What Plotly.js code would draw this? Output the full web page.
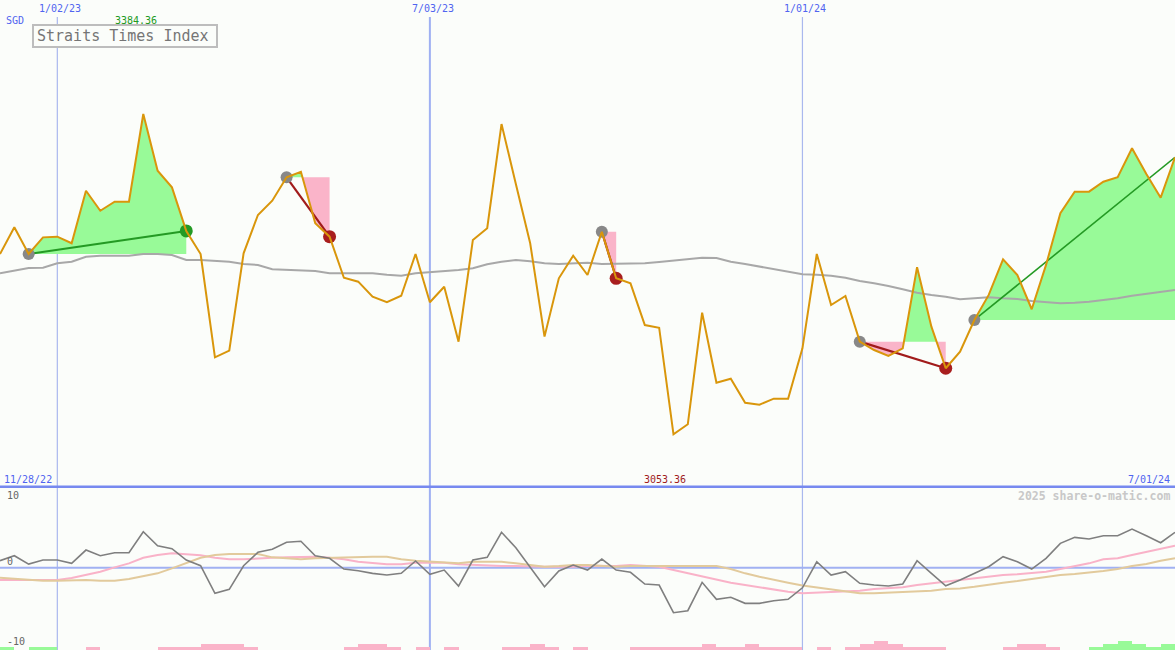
<!DOCTYPE html>
<html>
<head>
<meta charset="utf-8">
<script src="https://cdn.plot.ly/plotly-3.0.1.min.js"></script>
<style>
  html, body { margin: 0; padding: 0; background: #fbfdfa; }
  #chart { width: 1175px; height: 650px; }
</style>
</head>
<body>
<div id="chart"></div>
<script>
// Weekly closes of the Straits Times Index, first week 5 Dec 2022
const close = [
  3239.7, 3267.3, 3239.7, 3256.9, 3257.6, 3250.8, 3305.1, 3284.4, 3293.7, 3293.7,
  3384.36, 3325.8, 3308.6, 3263.5, 3239.7, 3132.9, 3139.8, 3240.4, 3280.0, 3294.8,
  3319.0, 3324.7, 3271.4, 3257.6, 3215.2, 3211.1, 3195.6, 3189.8, 3196.6, 3239.7,
  3189.8, 3205.9, 3149.1, 3254.2, 3266.3, 3374.0, 3312.0, 3250.8, 3154.3, 3214.6,
  3237.9, 3218.0, 3262.7, 3214.6, 3209.4, 3166.3, 3163.5, 3053.36, 3063.7, 3179.0,
  3106.7, 3110.8, 3086.0, 3084.0, 3090.2, 3090.2, 3142.2, 3239.7, 3187.0, 3196.3,
  3149.1, 3140.5, 3134.3, 3142.2, 3226.0, 3164.6, 3121.6, 3138.8, 3171.5, 3197.4,
  3234.2, 3218.0, 3182.6, 3228.4, 3281.8, 3304.1, 3304.1, 3314.4, 3319.0, 3349.0,
  3322.4, 3297.9, 3339.6
];

// Moving average of the close
const average = [
  3219.8, 3222.6, 3225.2, 3225.5, 3230.1, 3231.7, 3236.9, 3237.9, 3237.9, 3237.9,
  3239.7, 3239.7, 3238.7, 3233.5, 3233.5, 3232.8, 3231.7, 3229.4, 3228.4, 3223.9,
  3223.2, 3223.2, 3222.1, 3219.8, 3219.8, 3219.8, 3219.8, 3218.3, 3217.3, 3219.8,
  3220.8, 3222.4, 3223.2, 3224.9, 3229.1, 3231.7, 3233.5, 3232.2, 3230.1, 3229.4,
  3230.1, 3230.7, 3229.4, 3229.4, 3229.4, 3230.1, 3231.4, 3232.8, 3234.5, 3235.9,
  3235.6, 3231.7, 3229.4, 3226.6, 3223.9, 3221.1, 3218.7, 3218.3, 3217.3, 3215.2,
  3211.8, 3209.4, 3206.7, 3203.2, 3199.7, 3197.4, 3195.6, 3192.9, 3193.9, 3195.0,
  3193.9, 3193.2, 3191.2, 3189.8, 3188.8, 3189.4, 3190.4, 3192.2, 3193.9, 3196.6,
  3198.4, 3200.1, 3202.5
];

// Momentum oscillator and its two smoothings
const oscillator = [
  0.96, 1.64, 0.5, 1.05, 1.05, 0.6, 2.42, 1.64, 2.05, 2.05,
  4.93, 3.01, 2.6, 1.05, 0.27, -3.51, -2.96, 0.27, 2.11, 2.52,
  3.48, 3.62, 1.64, 1.29, -0.18, -0.41, -0.77, -1.0, -0.77, 0.92,
  -0.9, -0.32, -2.51, 1.05, 1.42, 4.85, 2.74, 0.14, -2.6, -0.45,
  0.37, -0.32, 1.19, -0.32, -0.63, -2.23, -2.37, -6.16, -5.89, -2.0,
  -4.33, -4.05, -4.88, -4.88, -4.52, -4.33, -2.75, 0.82, -1.0, -0.55,
  -2.14, -2.37, -2.51, -2.23, 0.96, -0.77, -2.47, -1.68, -0.77, 0.14,
  1.51, 0.82, -0.18, 1.29, 3.34, 4.16, 3.93, 4.38, 4.38, 5.3,
  4.38, 3.42, 4.85
];
const oscFast = [
  -1.68, -1.68, -1.68, -1.68, -1.68, -1.4, -1.0, -0.55, 0.05, 0.6,
  1.37, 1.74, 1.97, 1.88, 1.7, 1.37, 1.15, 1.15, 1.29, 1.37,
  1.42, 1.51, 1.51, 1.37, 1.15, 0.82, 0.68, 0.46, 0.46, 0.68,
  0.73, 0.68, 0.46, 0.37, 0.23, 0.23, 0.23, 0.14, 0.14, 0.14,
  0.14, 0.27, 0.27, 0.23, 0.37, 0.27, 0.14, -0.32, -0.77, -1.23,
  -1.68, -2.05, -2.37, -2.69, -2.96, -3.28, -3.51, -3.42, -3.42, -3.28,
  -3.15, -2.92, -2.83, -2.69, -2.37, -2.14, -1.92, -1.68, -1.46, -1.23,
  -1.0, -0.9, -0.77, -0.55, -0.18, 0.23, 0.6, 1.15, 1.29, 1.74,
  2.19, 2.56, 3.01
];
const oscSlow = [
  -1.37, -1.5, -1.59, -1.78, -1.78, -1.68, -1.68, -1.78, -1.78, -1.55,
  -1.14, -0.77, -0.09, 0.6, 1.37, 1.74, 1.88, 1.88, 1.88, 1.42,
  1.29, 1.15, 1.29, 1.37, 1.37, 1.51, 1.51, 1.51, 1.15, 0.96,
  0.82, 0.68, 0.6, 0.82, 0.82, 0.82, 0.6, 0.32, 0.14, 0.23,
  0.37, 0.37, 0.23, 0.14, 0.23, 0.23, 0.27, 0.27, 0.27, 0.23,
  0.23, -0.18, -0.77, -1.23, -1.68, -2.05, -2.42, -2.69, -2.96, -3.28,
  -3.51, -3.51, -3.42, -3.37, -3.28, -3.15, -2.92, -2.83, -2.6, -2.28,
  -2.05, -1.83, -1.55, -1.23, -1.0, -0.87, -0.68, -0.45, -0.18, 0.23,
  0.5, 0.96, 1.29
];

// Trend strength per week-to-week interval (+ rising, - falling)
const strength = [
  1, 0, 1, 1, 0, 0, -1, 0, 0, 0,
  0, -1, -1, -1, -2, -2, -2, -1, 0, 0,
  0, 0, 0, 0, -1, -2, -2, -1, 0, -1,
  0, -1, 0, 0, 0, -1, -1, -2, -1, 0,
  -1, 0, 0, 0, -1, -1, -1, -1, -1, -2,
  -1, -1, -2, -1, -1, -1, 0, -1, 0, -1,
  -2, -3, -2, -1, -1, -1, 0, 0, 0, 0,
  -1, -2, -2, -1, 0, 0, 1, 2, 3, 2,
  1, 2
];

// Trade signals: week index where each one opens and closes
const signalFrom = [2, 20, 42, 60, 68];
const signalTo   = [13, 23, 43, 66, 82];
const signalOpen = [false, false, false, false, true];

// Period markers across the top
const periodDates  = ['2023-01-02', '2023-07-03', '2024-01-01'];
const periodLabels = ['1/02/23', '7/03/23', '1/01/24'];

const chartTitle = 'Straits Times Index';
const currency = 'SGD';
const startLabel = '11/28/22';
const endLabel = '7/01/24';
const creditText = '2025 share-o-matic.com';

// ---------------------------------------------------------------------------
const W = 1175, H = 650;
const DAY = 864e5;
const firstWeek = Date.UTC(2022, 11, 5);
const wx = close.map((_, i) => firstWeek + i * 7 * DAY);
const px = v => v / W;
const py = v => 1 - v / H;

const BG = '#fbfdfa';
const GREEN_FILL = '#98fa98';
const PINK_FILL = '#fab4c9';
const MONO = 'DejaVu Sans Mono, Liberation Mono, monospace';

const traces = [];

// Shaded regions between the close and each signal's opening level
signalFrom.forEach((from, s) => {
  const to = signalTo[s];
  const base = close[from];
  const xs = [], ys = [];
  for (let k = from; k <= to; k++) {
    if (k > from) {
      const a = close[k - 1] - base, b = close[k] - base;
      if (a * b < 0) {
        const t = a / (a - b);
        xs.push(wx[k - 1] + t * (wx[k] - wx[k - 1]));
        ys.push(base);
      }
    }
    xs.push(wx[k]);
    ys.push(close[k]);
  }
  const flat = xs.map(() => base);
  const common = { mode: 'lines', line: { width: 0 }, hoverinfo: 'skip', showlegend: false };
  traces.push({ ...common, x: xs, y: flat });
  traces.push({ ...common, x: xs, y: ys.map(v => Math.max(v, base)), fill: 'tonexty', fillcolor: GREEN_FILL });
  traces.push({ ...common, x: xs, y: flat });
  traces.push({ ...common, x: xs, y: ys.map(v => Math.min(v, base)), fill: 'tonexty', fillcolor: PINK_FILL });
});

// Moving average
traces.push({
  x: wx, y: average, mode: 'lines', line: { color: '#a8a8a8', width: 2 },
  hoverinfo: 'skip', showlegend: false
});

// Signal trend lines and their end points
signalFrom.forEach((from, s) => {
  const to = signalTo[s];
  const up = close[to] > close[from];
  const col = up ? '#249a24' : '#a11b1b';
  traces.push({
    x: [wx[from], wx[to]], y: [close[from], close[to]], mode: 'lines',
    line: { color: col, width: s === signalFrom.length - 1 ? 1.6 : 2.2 },
    hoverinfo: 'skip', showlegend: false
  });
  traces.push({
    x: [wx[from]], y: [close[from]], mode: 'markers',
    marker: { color: '#888888', size: 12 }, hoverinfo: 'skip', showlegend: false
  });
  if (!signalOpen[s]) {
    traces.push({
      x: [wx[to]], y: [close[to]], mode: 'markers',
      marker: { color: up ? '#249a24' : '#a81e1e', size: 13 }, hoverinfo: 'skip', showlegend: false
    });
  }
});

// Weekly close
traces.push({
  x: wx, y: close, mode: 'lines', line: { color: '#d9960b', width: 2 },
  hoverinfo: 'skip', showlegend: false
});

// Lower panel: oscillator lines
traces.push({
  x: wx, y: oscFast, yaxis: 'y2', mode: 'lines', line: { color: '#f9b2c8', width: 2 },
  hoverinfo: 'skip', showlegend: false
});
traces.push({
  x: wx, y: oscSlow, yaxis: 'y2', mode: 'lines', line: { color: '#e2ca9c', width: 2 },
  hoverinfo: 'skip', showlegend: false
});
traces.push({
  x: wx, y: oscillator, yaxis: 'y2', mode: 'lines', line: { color: '#7f7f7f', width: 1.6 },
  hoverinfo: 'skip', showlegend: false
});

// Lower panel: strength bars along the bottom edge
traces.push({
  type: 'bar', yaxis: 'y3',
  x: strength.map((_, i) => (wx[i] + wx[i + 1]) / 2),
  y: strength.map(v => Math.abs(v)),
  width: 7 * DAY,
  marker: { color: strength.map(v => v > 0 ? GREEN_FILL : PINK_FILL), line: { width: 0 } },
  hoverinfo: 'skip', showlegend: false
});

// ---------------------------------------------------------------------------
const hiIdx = close.indexOf(Math.max(...close));
const loIdx = close.indexOf(Math.min(...close));

const shapes = [];
periodDates.forEach((d, i) => {
  shapes.push({
    type: 'line', xref: 'x', yref: 'paper', x0: d, x1: d, y0: 0, y1: py(17),
    line: { color: i === 1 ? '#9fb0f2' : '#a9b8ee', width: i === 1 ? 2 : 1.2 }, layer: 'below'
  });
});
// panel divider
shapes.push({
  type: 'line', xref: 'paper', yref: 'paper', x0: 0, x1: 1, y0: py(486.7), y1: py(486.7),
  line: { color: '#7789ef', width: 2.5 }, layer: 'below'
});
// oscillator zero line
shapes.push({
  type: 'line', xref: 'paper', yref: 'y2', x0: 0, x1: 1, y0: 0, y1: 0,
  line: { color: '#a1b1f2', width: 2 }, layer: 'below'
});
// title box
shapes.push({
  type: 'rect', xref: 'paper', yref: 'paper', x0: px(33), x1: px(217), y0: py(25), y1: py(47),
  fillcolor: BG, line: { color: '#bdbdbd', width: 2 }, layer: 'above'
});

const blue = '#5064f0';
const ann = (text, x, y, opts = {}) => Object.assign({
  text, x, y, xref: 'paper', yref: 'paper', showarrow: false,
  xanchor: 'center', yanchor: 'middle',
  font: { family: MONO, size: 10, color: blue }
}, opts);

const annotations = [];
periodDates.forEach((d, i) => {
  annotations.push(ann(periodLabels[i], d, py(8.5), { xref: 'x', xshift: 3 }));
});
annotations.push(ann(currency, px(15), py(21)));
annotations.push(ann(close[hiIdx].toFixed(2), wx[hiIdx], py(21),
  { xref: 'x', xshift: -7, font: { family: MONO, size: 10, color: '#229a22' } }));
annotations.push(ann(chartTitle, px(123), py(36),
  { font: { family: MONO, size: 15, color: '#757575' } }));
annotations.push(ann(startLabel, px(2), py(479), { xanchor: 'left' }));
annotations.push(ann(close[loIdx].toFixed(2), wx[loIdx], py(479),
  { xref: 'x', xshift: -8, font: { family: MONO, size: 10, color: '#a01c1c' } }));
annotations.push(ann(endLabel, px(1172), py(479), { xanchor: 'right' }));
annotations.push(ann(creditText, px(1172), py(496),
  { xanchor: 'right', font: { family: MONO, size: 11.5, color: '#c8c8c8', weight: 'bold' } }));
[10, 0, -10].forEach(v => {
  annotations.push(ann(String(v), px(5), v, {
    yref: 'y2', xanchor: 'left', yshift: v === 0 ? 6 : -1,
    font: { family: MONO, size: 10, color: '#666666' }
  }));
});

const layout = {
  width: W, height: H,
  margin: { l: 0, r: 0, t: 0, b: 0, pad: 0 },
  paper_bgcolor: BG, plot_bgcolor: BG,
  showlegend: false,
  bargap: 0,
  xaxis: {
    type: 'date', range: ['2022-12-05', '2024-07-01'], visible: false,
    showgrid: false, zeroline: false, fixedrange: true
  },
  yaxis: {
    domain: [1 - 487 / H, 1], range: [2998.9, 3502.2], visible: false,
    showgrid: false, zeroline: false, fixedrange: true
  },
  yaxis2: {
    domain: [0, 162 / H], range: [-11.27, 10.92], visible: false, anchor: 'x',
    showgrid: false, zeroline: false, fixedrange: true
  },
  yaxis3: {
    overlaying: 'y2', range: [0, 54], visible: false,
    showgrid: false, zeroline: false, fixedrange: true
  },
  shapes, annotations
};

Plotly.newPlot('chart', traces, layout, { displayModeBar: false, staticPlot: true });
</script>
</body>
</html>
